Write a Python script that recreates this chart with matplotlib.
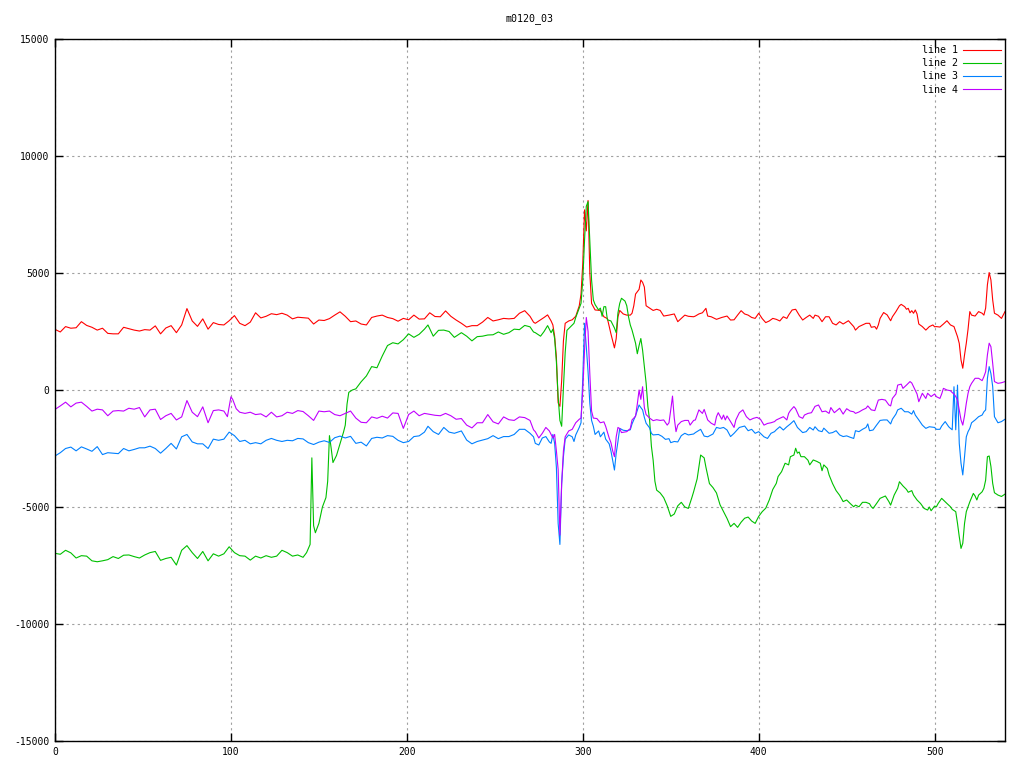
import matplotlib
matplotlib.use("Agg")
import matplotlib.pyplot as plt

title_text = "m0120_03"
series_labels = ["line 1", "line 2", "line 3", "line 4"]
series_colors = ["#ff0000", "#00c000", "#0080ff", "#c000ff"]
x_ticks = [0, 100, 200, 300, 400, 500]
y_ticks = [-15000, -10000, -5000, 0, 5000, 10000, 15000]

line1_points = [
    (0, 2590), (3, 2480), (6, 2710), (9, 2640), (12, 2660), (15, 2920), (18, 2760), (21, 2680), (24, 2560),
    (27, 2640), (30, 2420), (33, 2400), (36, 2400), (39, 2680), (42, 2620), (45, 2560),
    (48, 2520), (51, 2580), (54, 2560), (57, 2740), (60, 2400), (63, 2650), (66, 2750), (69, 2450), (72, 2780),
    (75, 3480), (78, 2950), (81, 2720), (84, 3040), (87, 2600), (90, 2880),
    (93, 2800), (96, 2780), (99, 2960), (102, 3180), (105, 2850), (108, 2750), (111, 2900), (114, 3300),
    (117, 3080), (120, 3150), (123, 3260), (126, 3220), (129, 3280), (132, 3200), (135, 3040),
    (138, 3110), (141, 3090), (144, 3070), (147, 2820), (150, 2990), (153, 2970), (156, 3050), (159, 3200),
    (162, 3340), (165, 3150), (168, 2920), (171, 2950), (174, 2820), (177, 2780), (180, 3100),
    (183, 3160), (186, 3200), (189, 3100), (192, 3050), (195, 2940), (198, 3060), (201, 3000), (204, 3200),
    (207, 3030), (210, 3040), (213, 3300), (216, 3140), (219, 3130), (222, 3380), (225, 3150),
    (228, 2990), (231, 2850), (234, 2690), (237, 2750), (240, 2750), (243, 2900), (246, 3100), (249, 2950),
    (252, 3000), (255, 3060), (258, 3040), (261, 3060), (264, 3280), (267, 3390), (270, 3150), (272, 2900),
    (273, 2850), (276, 3000), (278, 3100), (280, 3210), (282, 2950), (283, 2780), (284, 2300), (285, 1400),
    (286, -550), (287, -700), (288, 400), (289, 2100), (290, 2850), (292, 2950), (294, 3000), (296, 3150),
    (298, 3600), (299, 4100), (300, 5400), (301, 7700), (302, 6800), (303, 8100), (304, 5000), (305, 3700),
    (307, 3420), (310, 3400), (312, 3130), (314, 3050), (316, 2400), (318, 1800),
    (319, 2200), (320, 3130), (321, 3400), (323, 3250), (325, 3200), (327, 3200), (328, 3280), (329, 3600),
    (330, 4100), (332, 4300), (333, 4700), (334, 4600), (335, 4400), (336, 3600), (338, 3500), (340, 3400),
    (342, 3450), (344, 3400), (346, 3160), (349, 3200), (352, 3250), (354, 2920), (356, 3060), (358, 3200),
    (360, 3150), (363, 3130),
    (364, 3160), (366, 3250), (368, 3300), (370, 3490), (371, 3160), (373, 3130), (376, 3020), (379, 3100),
    (382, 3160), (384, 2990), (386, 3000), (388, 3200), (390, 3390), (392, 3250), (394, 3200), (396, 3100),
    (398, 3060), (400, 3280), (402, 3050), (404, 2880), (406, 2950), (408, 3060),
    (410, 3020), (412, 2950), (414, 3130), (416, 3060), (417, 3200), (419, 3420), (421, 3450), (423, 3200),
    (425, 2990), (427, 3100), (429, 3200), (431, 3060), (432, 3200), (434, 3150), (436, 2920), (438, 3130),
    (440, 3130), (442, 2850), (444, 2780), (446, 2920), (448, 2820), (451, 2960), (454, 2710),
    (455, 2560), (457, 2710), (459, 2780), (461, 2850), (463, 2850), (464, 2680), (466, 2710), (467, 2600),
    (468, 2780), (469, 3060), (471, 3310), (473, 3210), (475, 2960), (476, 3130), (478, 3350), (480, 3600),
    (481, 3660), (483, 3560), (484, 3450), (485, 3490), (486, 3300), (487, 3390), (488, 3280), (489, 3420),
    (490, 3250), (491, 2820), (493, 2710), (495, 2560), (497, 2710), (499, 2780), (500, 2700),
    (501, 2710), (503, 2690), (505, 2820), (507, 2960), (509, 2780), (511, 2710), (512, 2490), (513, 2280),
    (514, 1990), (515, 1280), (516, 930), (517, 1500), (518, 2000), (519, 2600), (520, 3350), (521, 3200),
    (523, 3160), (525, 3350), (527, 3280), (528, 3200), (529, 3500), (530, 4500), (531, 5020), (532, 4700),
    (533, 3850), (534, 3280), (536, 3200), (538, 3060), (540, 3350),
]

line2_points = [
    (0, -6980), (3, -7020), (6, -6850), (9, -6960), (12, -7180), (15, -7080), (18, -7100), (21, -7300),
    (24, -7340), (27, -7300), (30, -7250), (33, -7120), (36, -7200), (39, -7060), (42, -7050), (45, -7120),
    (48, -7180), (51, -7050), (54, -6950), (57, -6900), (60, -7280), (63, -7200), (66, -7150), (69, -7480),
    (72, -6850), (75, -6650), (78, -6950), (81, -7200), (84, -6900), (87, -7300), (90, -7000),
    (93, -7100), (96, -7000), (99, -6700), (102, -6950), (105, -7080), (108, -7100), (111, -7270), (114, -7100),
    (117, -7180), (120, -7080), (123, -7150), (126, -7100), (129, -6850), (132, -6950), (135, -7100),
    (138, -7050), (141, -7150), (143, -6950), (145, -6600), (146, -2900), (147, -5800), (148, -6100),
    (150, -5700), (152, -5000), (154, -4600), (155, -3900), (156, -1950), (157, -2500), (158, -3100),
    (160, -2800), (162, -2300), (164, -1800), (165, -1500), (166, -600), (167, -100), (169, 0), (171, 50),
    (174, 350), (177, 600), (180, 1000),
    (183, 950), (186, 1450), (189, 1900), (192, 2020), (195, 1970), (198, 2150), (201, 2400), (204, 2250),
    (207, 2380), (210, 2600), (212, 2780), (215, 2300), (218, 2550), (221, 2560), (224, 2500), (227, 2250),
    (231, 2450), (234, 2300), (237, 2100), (240, 2280), (243, 2300), (246, 2350), (249, 2360), (252, 2480),
    (255, 2380), (258, 2450), (261, 2600), (264, 2580), (267, 2760), (270, 2700), (272, 2480),
    (273, 2450), (276, 2300), (278, 2500), (280, 2750), (282, 2450), (283, 2600), (284, 2200), (285, 1200),
    (286, -300), (287, -1300), (288, -1550), (289, 100), (290, 1600), (291, 2550), (293, 2700), (295, 2850),
    (296, 3100), (298, 3500), (299, 3700), (300, 4700), (301, 6400), (302, 7850), (303, 8050), (304, 6400),
    (305, 4700), (306, 3850), (307, 3650), (309, 3420), (310, 3500), (311, 3150), (312, 3560), (313, 3560),
    (314, 3000), (316, 2950), (318, 2650),
    (319, 2450), (320, 3300), (321, 3700), (322, 3920), (324, 3800), (325, 3600), (326, 3130), (327, 2780),
    (328, 2560), (329, 2280), (330, 2000), (331, 1550), (332, 1900), (333, 2200), (334, 1700), (335, 1000),
    (336, 300), (337, -700), (338, -1300), (339, -2400), (340, -3000), (341, -3900), (342, -4280), (344, -4400),
    (346, -4600), (348, -4950), (350, -5400), (352, -5300), (354, -4950), (356, -4800), (358, -5000),
    (360, -5060), (362, -4600), (363, -4350),
    (365, -3800), (366, -3280), (367, -2780), (369, -2900), (370, -3300), (372, -4000), (374, -4170),
    (376, -4400), (378, -4900), (380, -5200), (382, -5490), (384, -5840), (386, -5700), (388, -5870),
    (390, -5650), (392, -5480), (394, -5430), (396, -5600), (398, -5700), (400, -5400), (402, -5200),
    (404, -5050), (406, -4700), (408, -4250),
    (410, -3990), (411, -3700), (413, -3490), (415, -3130), (417, -3200), (418, -2850), (420, -2780),
    (421, -2490), (422, -2700), (423, -2650), (424, -2850), (426, -2850), (428, -3000), (429, -3200),
    (431, -2990), (433, -3050), (435, -3130), (436, -3450), (437, -3200), (439, -3350), (440, -3630),
    (442, -4000), (444, -4300), (446, -4500), (448, -4770), (450, -4700), (452, -4850), (454, -4990),
    (455, -4920), (457, -4990), (459, -4800), (461, -4800), (463, -4860), (464, -4990), (465, -5060),
    (467, -4850), (469, -4630), (471, -4560), (472, -4530), (474, -4770), (475, -4920), (477, -4490),
    (479, -4200), (480, -3920), (482, -4100), (484, -4250), (485, -4370), (487, -4300), (488, -4490),
    (490, -4700), (492, -4850), (494, -5060), (496, -5130), (497, -5000), (498, -5160), (500, -4960),
    (501, -4990), (502, -4850), (504, -4630), (506, -4780), (507, -4850), (509, -4990), (510, -5100),
    (512, -5200), (513, -5700), (514, -6270), (515, -6770), (516, -6550), (517, -5700), (518, -5200),
    (519, -4990), (520, -4780), (521, -4600), (522, -4420), (523, -4530), (524, -4700), (525, -4490),
    (527, -4350), (528, -4200), (529, -3850), (530, -2850), (531, -2820), (532, -3270), (533, -3990),
    (534, -4390), (536, -4490), (538, -4550), (540, -4450),
]

line3_points = [
    (0, -2820), (3, -2680), (6, -2500), (9, -2440), (12, -2600), (15, -2430), (18, -2520), (21, -2620),
    (24, -2420), (27, -2760), (30, -2680), (33, -2700), (36, -2720), (39, -2500), (42, -2600), (45, -2540),
    (48, -2470), (51, -2470), (54, -2400), (57, -2500), (60, -2700), (63, -2500), (66, -2280), (69, -2520),
    (72, -2000), (75, -1900), (78, -2220), (81, -2300), (84, -2300), (87, -2500), (90, -2100),
    (93, -2150), (96, -2100), (99, -1800), (102, -1950), (105, -2200), (108, -2150), (111, -2300),
    (114, -2250), (117, -2300), (120, -2150), (123, -2070), (126, -2150), (129, -2200), (132, -2150), (135, -2170),
    (138, -2070), (141, -2090), (144, -2250), (147, -2330), (150, -2230), (153, -2170), (156, -2240),
    (159, -2040), (162, -1970), (165, -2050), (168, -1980), (171, -2280), (174, -2230), (177, -2390), (180, -2070),
    (183, -2020), (186, -2050), (189, -1950), (192, -1980), (195, -2150), (198, -2250), (201, -2200),
    (204, -1990), (207, -1960), (210, -1800), (212, -1550), (215, -1780), (218, -1900), (221, -1600),
    (224, -1800), (227, -1850),
    (231, -1750), (234, -2140), (237, -2300), (240, -2200), (243, -2140), (246, -2080), (249, -1950),
    (252, -2080), (255, -1990), (258, -1990), (261, -1900), (264, -1680), (267, -1680), (270, -1850), (272, -2000),
    (273, -2280), (275, -2350), (277, -2050), (279, -1990), (281, -2220), (282, -2280), (283, -1900),
    (284, -2280), (285, -3300), (286, -5700), (287, -6600), (288, -4000), (289, -2850), (290, -2100),
    (292, -1920), (294, -2000), (295, -2200), (296, -1920), (298, -1600), (299, -1400), (300, 500),
    (301, 2850), (302, 1850), (303, 780), (304, -570), (305, -1300), (306, -1550), (307, -1900), (309, -1750),
    (310, -2000), (312, -1800), (313, -2100), (315, -2300), (316, -2600), (317, -3000), (318, -3420),
    (319, -2700), (320, -2200), (321, -1640), (323, -1720), (325, -1740), (327, -1700), (328, -1450),
    (330, -1100), (331, -870), (332, -640), (333, -750), (334, -850), (335, -1170), (336, -1420), (338, -1620),
    (339, -1850), (340, -1920), (343, -1900), (345, -1980), (347, -2110), (349, -2080), (350, -2250),
    (352, -2200), (354, -2220), (356, -1950), (358, -1850), (360, -1920), (363, -1880),
    (364, -1820), (367, -1680), (369, -1970), (371, -2000), (373, -1920), (374, -1880), (376, -1600),
    (378, -1640), (380, -1600), (382, -1710), (384, -1990), (386, -1850), (389, -1600), (392, -1540),
    (394, -1740), (396, -1680), (398, -1850), (400, -1780), (403, -2000), (405, -2070), (407, -1850), (409, -1780),
    (410, -1700), (412, -1570), (414, -1710), (416, -1570), (418, -1450), (420, -1310), (422, -1600),
    (425, -1820), (427, -1780), (429, -1600), (431, -1710), (432, -1570), (434, -1740), (436, -1780),
    (437, -1630), (440, -1850), (442, -1820), (444, -1740), (446, -1920), (448, -1990), (450, -1960),
    (452, -2020), (454, -2070),
    (455, -1740), (457, -1780), (459, -1680), (461, -1600), (462, -1450), (463, -1740), (465, -1710),
    (467, -1500), (469, -1300), (471, -1280), (473, -1280), (475, -1450), (476, -1250), (478, -1030),
    (479, -850), (481, -780), (483, -930), (485, -930), (487, -1030), (488, -880), (489, -1070), (491, -1280),
    (493, -1500), (495, -1640), (497, -1570), (500, -1600),
    (501, -1680), (503, -1680), (504, -1540), (506, -1350), (508, -1570), (509, -1640), (510, -1700),
    (511, 140), (512, -1700), (513, 210), (514, -2280), (515, -3130), (516, -3630), (517, -2850), (518, -2000),
    (519, -1780), (520, -1640), (521, -1400), (523, -1280), (525, -1140), (527, -1070), (528, -930),
    (529, -850), (530, 500), (531, 1000), (532, 700), (533, 150), (534, -1140), (536, -1400), (538, -1350),
    (540, -1250),
]

line4_points = [
    (0, -830), (3, -680), (6, -520), (9, -720), (12, -560), (15, -520), (18, -700), (21, -900), (24, -820),
    (27, -850), (30, -1100), (33, -900), (36, -880), (39, -900), (42, -780), (45, -820),
    (48, -750), (51, -1150), (54, -850), (57, -820), (60, -1260), (63, -1100), (66, -1000), (69, -1280),
    (72, -1150), (75, -450), (78, -950), (81, -1140), (84, -720), (87, -1400), (90, -880),
    (93, -850), (96, -900), (98, -1140), (100, -290), (101, -400), (103, -800), (105, -950), (108, -1000),
    (111, -950), (114, -1050), (117, -1020), (120, -1150), (123, -950), (126, -1150), (129, -1100),
    (132, -950), (135, -1000),
    (138, -880), (141, -920), (144, -1100), (147, -1300), (150, -900), (153, -930), (156, -900), (159, -1050),
    (162, -1100), (165, -1000), (168, -900), (171, -1200), (174, -1380), (177, -1400), (180, -1150),
    (183, -1210), (186, -1120), (189, -1200), (192, -980), (195, -1000), (198, -1640), (201, -1050),
    (204, -900), (207, -1100), (210, -1000), (213, -1040), (216, -1080), (219, -1100), (222, -1000), (225, -1100),
    (228, -1250), (231, -1220), (234, -1500), (237, -1620), (240, -1400), (243, -1400), (246, -1050),
    (249, -1360), (252, -1450), (255, -1150), (258, -1270), (261, -1300), (264, -1150), (267, -1180),
    (270, -1300), (272, -1700),
    (273, -1780), (275, -2050), (277, -1850), (279, -1600), (281, -1750), (283, -2050), (284, -1900),
    (285, -2600), (286, -3400), (287, -6200), (288, -4000), (289, -2600), (290, -2000), (292, -1750),
    (294, -1680), (296, -1400), (298, -1250), (299, -1200), (300, 0), (301, 1700), (302, 3100), (303, 2500),
    (304, 700), (305, -900), (306, -1200), (308, -1220), (310, -1400), (312, -1360), (313, -1550),
    (315, -2050), (316, -2250), (317, -2600), (318, -2850),
    (319, -2000), (320, -1600), (321, -1650), (322, -1820), (325, -1780), (327, -1650), (328, -1280),
    (330, -1120), (331, -600), (332, 0), (333, -400), (334, 140), (335, -750), (336, -1050), (338, -1200),
    (340, -1310), (342, -1270), (344, -1300), (346, -1280), (348, -1500), (349, -1400), (350, -850),
    (351, -260), (352, -1200), (353, -1780), (354, -1500), (356, -1350), (358, -1300), (360, -1300),
    (361, -1500), (363, -1300),
    (364, -1280), (366, -850), (368, -1000), (369, -830), (371, -1280), (373, -1420), (375, -1500),
    (376, -1140), (377, -970), (379, -1250), (380, -1070), (381, -1280), (382, -1110), (384, -1350),
    (386, -1600), (387, -1280), (389, -970), (391, -850), (393, -1140), (395, -1280), (397, -1210),
    (399, -1170), (401, -1250), (403, -1500), (405, -1430), (407, -1400), (409, -1350),
    (410, -1280), (412, -1210), (414, -1140), (416, -1280), (417, -1000), (418, -880), (420, -710),
    (421, -800), (423, -1140), (425, -1210), (426, -1070), (428, -1000), (430, -970), (432, -700),
    (434, -640), (436, -930), (438, -900), (440, -1000), (441, -750), (443, -970), (446, -780), (448, -1030),
    (450, -800), (452, -900), (454, -930),
    (455, -1000), (457, -940), (459, -850), (461, -780), (462, -680), (464, -850), (466, -880), (468, -430),
    (470, -400), (472, -430), (474, -640), (475, -680), (476, -360), (478, -170), (479, 210), (481, 250),
    (482, 70), (484, 210), (486, 360), (487, 300), (488, 140), (490, -170), (491, -500), (493, -140),
    (495, -360), (496, -140), (498, -280), (500, -170),
    (501, -285), (503, -360), (504, -170), (505, 70), (507, 0), (509, -30), (510, -110), (511, -170),
    (512, -280), (513, -430), (514, -850), (515, -1280), (516, -1500), (517, -1100), (518, -570), (519, -140),
    (520, 140), (521, 285), (523, 500), (525, 500), (527, 400), (528, 570), (529, 780), (530, 1500),
    (531, 2000), (532, 1850), (533, 1140), (534, 360), (536, 285), (538, 310), (540, 360),
]

all_series = [line1_points, line2_points, line3_points, line4_points]

plt.rcParams['font.family'] = ['DejaVu Sans Mono', 'DejaVu Sans']
plt.rcParams['axes.unicode_minus'] = False
fig = plt.figure(figsize=(10.24, 7.68), dpi=100)
ax = fig.add_axes([55 / 1024, 1 - 741 / 768, 950 / 1024, 702 / 768])

for pts, lab, col in zip(all_series, series_labels, series_colors):
    xs = [p[0] for p in pts]
    ys = [p[1] for p in pts]
    ax.plot(xs, ys, color=col, lw=0.8, label=lab)

ax.set_xlim(0, 540)
ax.set_ylim(-15000, 15000)
ax.set_xticks(x_ticks)
ax.set_yticks(y_ticks)
ax.grid(True, color="#a0a0a0", linestyle=(0, (2, 3)), lw=0.8)
ax.tick_params(direction="in", length=6, width=1, top=True, right=True, labelsize=7, pad=4)
for s in ax.spines.values():
    s.set_linewidth(1.0)
    s.set_color("black")

fig.text(530 / 1024, 1 - 19 / 768, title_text, ha="center", va="center", fontsize=7.2)

leg = ax.legend(loc="upper right", bbox_to_anchor=(1001 / 1024, 1 - 45 / 768),
                bbox_transform=fig.transFigure, frameon=False, markerfirst=False,
                handlelength=3.8, labelspacing=0.32, fontsize=7.2, handletextpad=0.5,
                borderaxespad=0, borderpad=0)

fig.savefig("out.png", dpi=100)
